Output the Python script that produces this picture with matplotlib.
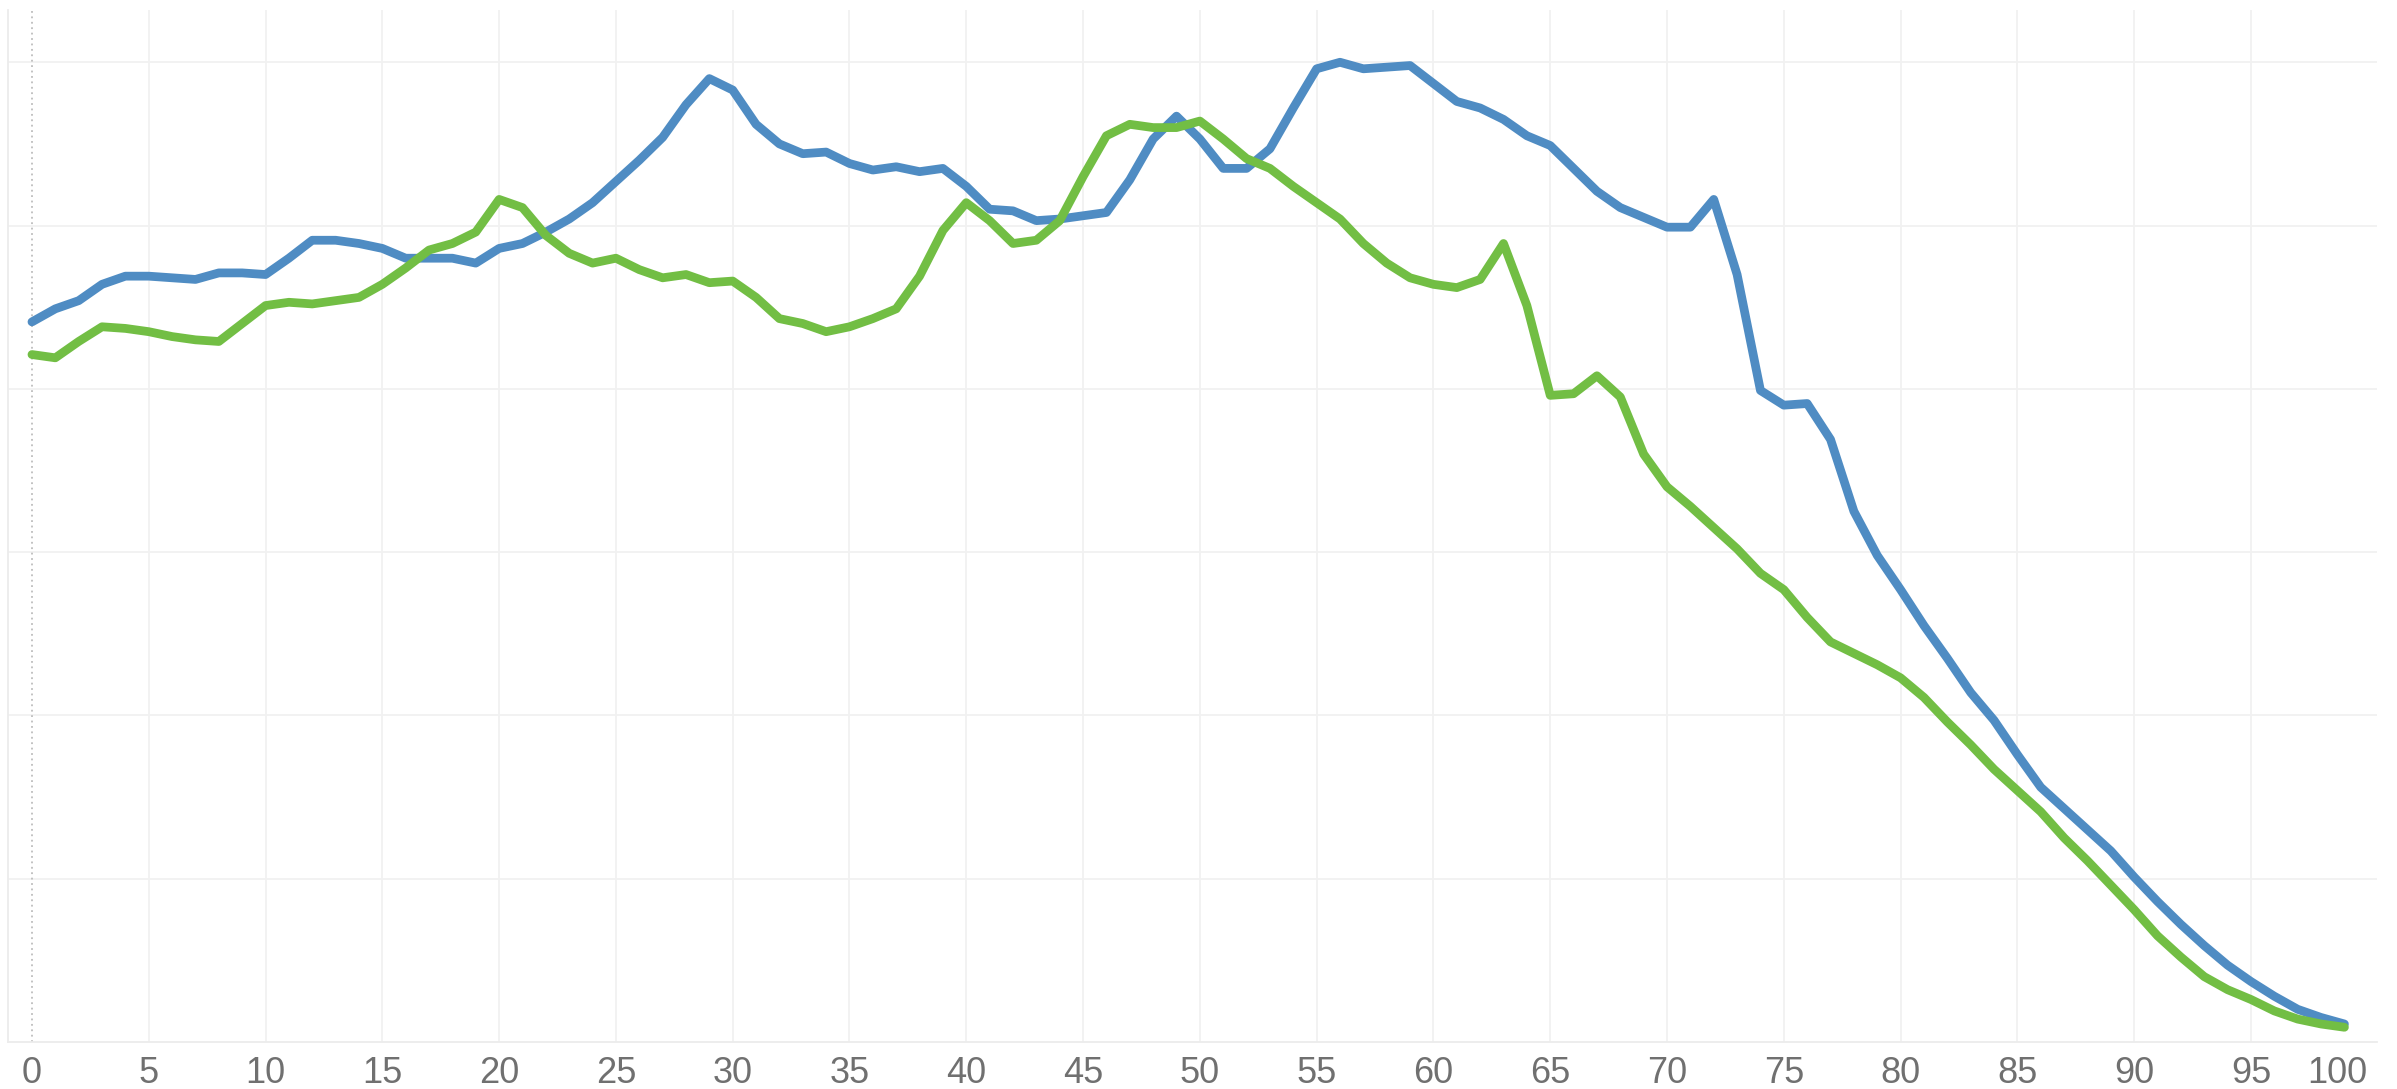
import numpy as np
import matplotlib.pyplot as plt

# values (x = 0..99)
x = list(range(100))

blue = [4.41, 4.49, 4.54, 4.64, 4.69, 4.69, 4.68, 4.67, 4.71, 4.71,
        4.70, 4.80, 4.91, 4.91, 4.89, 4.86, 4.80, 4.80, 4.80, 4.77,
        4.86, 4.89, 4.96, 5.04, 5.14, 5.27, 5.40, 5.54, 5.74, 5.90,
        5.83, 5.62, 5.50, 5.44, 5.45, 5.38, 5.34, 5.36, 5.33, 5.35,
        5.24, 5.10, 5.09, 5.03, 5.04, 5.06, 5.08, 5.28, 5.53, 5.67,
        5.53, 5.35, 5.35, 5.47, 5.72, 5.96, 6.00, 5.96, 5.97, 5.98,
        5.87, 5.76, 5.72, 5.65, 5.55, 5.49, 5.35, 5.21, 5.11, 5.05,
        4.99, 4.99, 5.16, 4.70, 3.99, 3.90, 3.91, 3.69, 3.25, 2.98,
        2.77, 2.55, 2.35, 2.14, 1.97, 1.76, 1.56, 1.43, 1.30, 1.17,
        1.01, 0.86, 0.72, 0.59, 0.47, 0.37, 0.28, 0.20, 0.15, 0.11]

green = [4.21, 4.19, 4.29, 4.38, 4.37, 4.35, 4.32, 4.30, 4.29, 4.40,
         4.51, 4.53, 4.52, 4.54, 4.56, 4.64, 4.74, 4.85, 4.89, 4.96,
         5.16, 5.11, 4.94, 4.83, 4.77, 4.80, 4.73, 4.68, 4.70, 4.65,
         4.66, 4.56, 4.43, 4.40, 4.35, 4.38, 4.43, 4.49, 4.69, 4.97,
         5.14, 5.03, 4.89, 4.91, 5.03, 5.30, 5.55, 5.62, 5.60, 5.60,
         5.64, 5.53, 5.41, 5.35, 5.24, 5.14, 5.04, 4.89, 4.77, 4.68,
         4.64, 4.62, 4.67, 4.89, 4.51, 3.96, 3.97, 4.08, 3.95, 3.60,
         3.40, 3.28, 3.15, 3.02, 2.87, 2.77, 2.60, 2.45, 2.38, 2.31,
         2.23, 2.11, 1.96, 1.82, 1.67, 1.54, 1.41, 1.25, 1.11, 0.96,
         0.81, 0.65, 0.52, 0.40, 0.32, 0.26, 0.19, 0.14, 0.11, 0.09]

xticks = list(range(0, 101, 5))
ygrid = [0, 1, 2, 3, 4, 5, 6]

plt.rcParams['font.family'] = ['Liberation Sans Narrow', 'Liberation Sans', 'DejaVu Sans']

fig = plt.figure(figsize=(23.97, 10.89), dpi=100)
ax = fig.add_axes([0.0033, 0.0432, 0.9884, 0.9476])

# grid
for v in ygrid[1:]:
    ax.axhline(v, color='#f1f1f1', lw=1.3, zorder=0)
for t in xticks[1:-1]:
    ax.axvline(t, color='#f1f1f1', lw=1.3, zorder=0)
ax.axvline(0, color='#bdbdbd', lw=1.3, ls=(0, (1, 2)), zorder=1)

ax.plot(x, blue, color='#4f8cc3', lw=6.3, solid_capstyle='round', solid_joinstyle='round', zorder=3)
ax.plot(x, green, color='#72be44', lw=6.3, solid_capstyle='round', solid_joinstyle='round', zorder=3)

ax.set_xlim(-1.03, 100.4)
ax.set_ylim(0, 6.32)

for s in ['top', 'right']:
    ax.spines[s].set_visible(False)
ax.spines['left'].set_color('#ececec')
ax.spines['bottom'].set_color('#ececec')
ax.spines['left'].set_linewidth(1.3)
ax.spines['bottom'].set_linewidth(1.3)

ax.set_yticks([])
ax.set_xticks(xticks)
ax.set_xticklabels([str(t) for t in xticks])
ax.tick_params(axis='x', length=0, pad=10, labelsize=26, labelcolor='#707070')
ax.get_xticklabels()[-1].set_ha('right')

fig.savefig('out.png', dpi=100)
